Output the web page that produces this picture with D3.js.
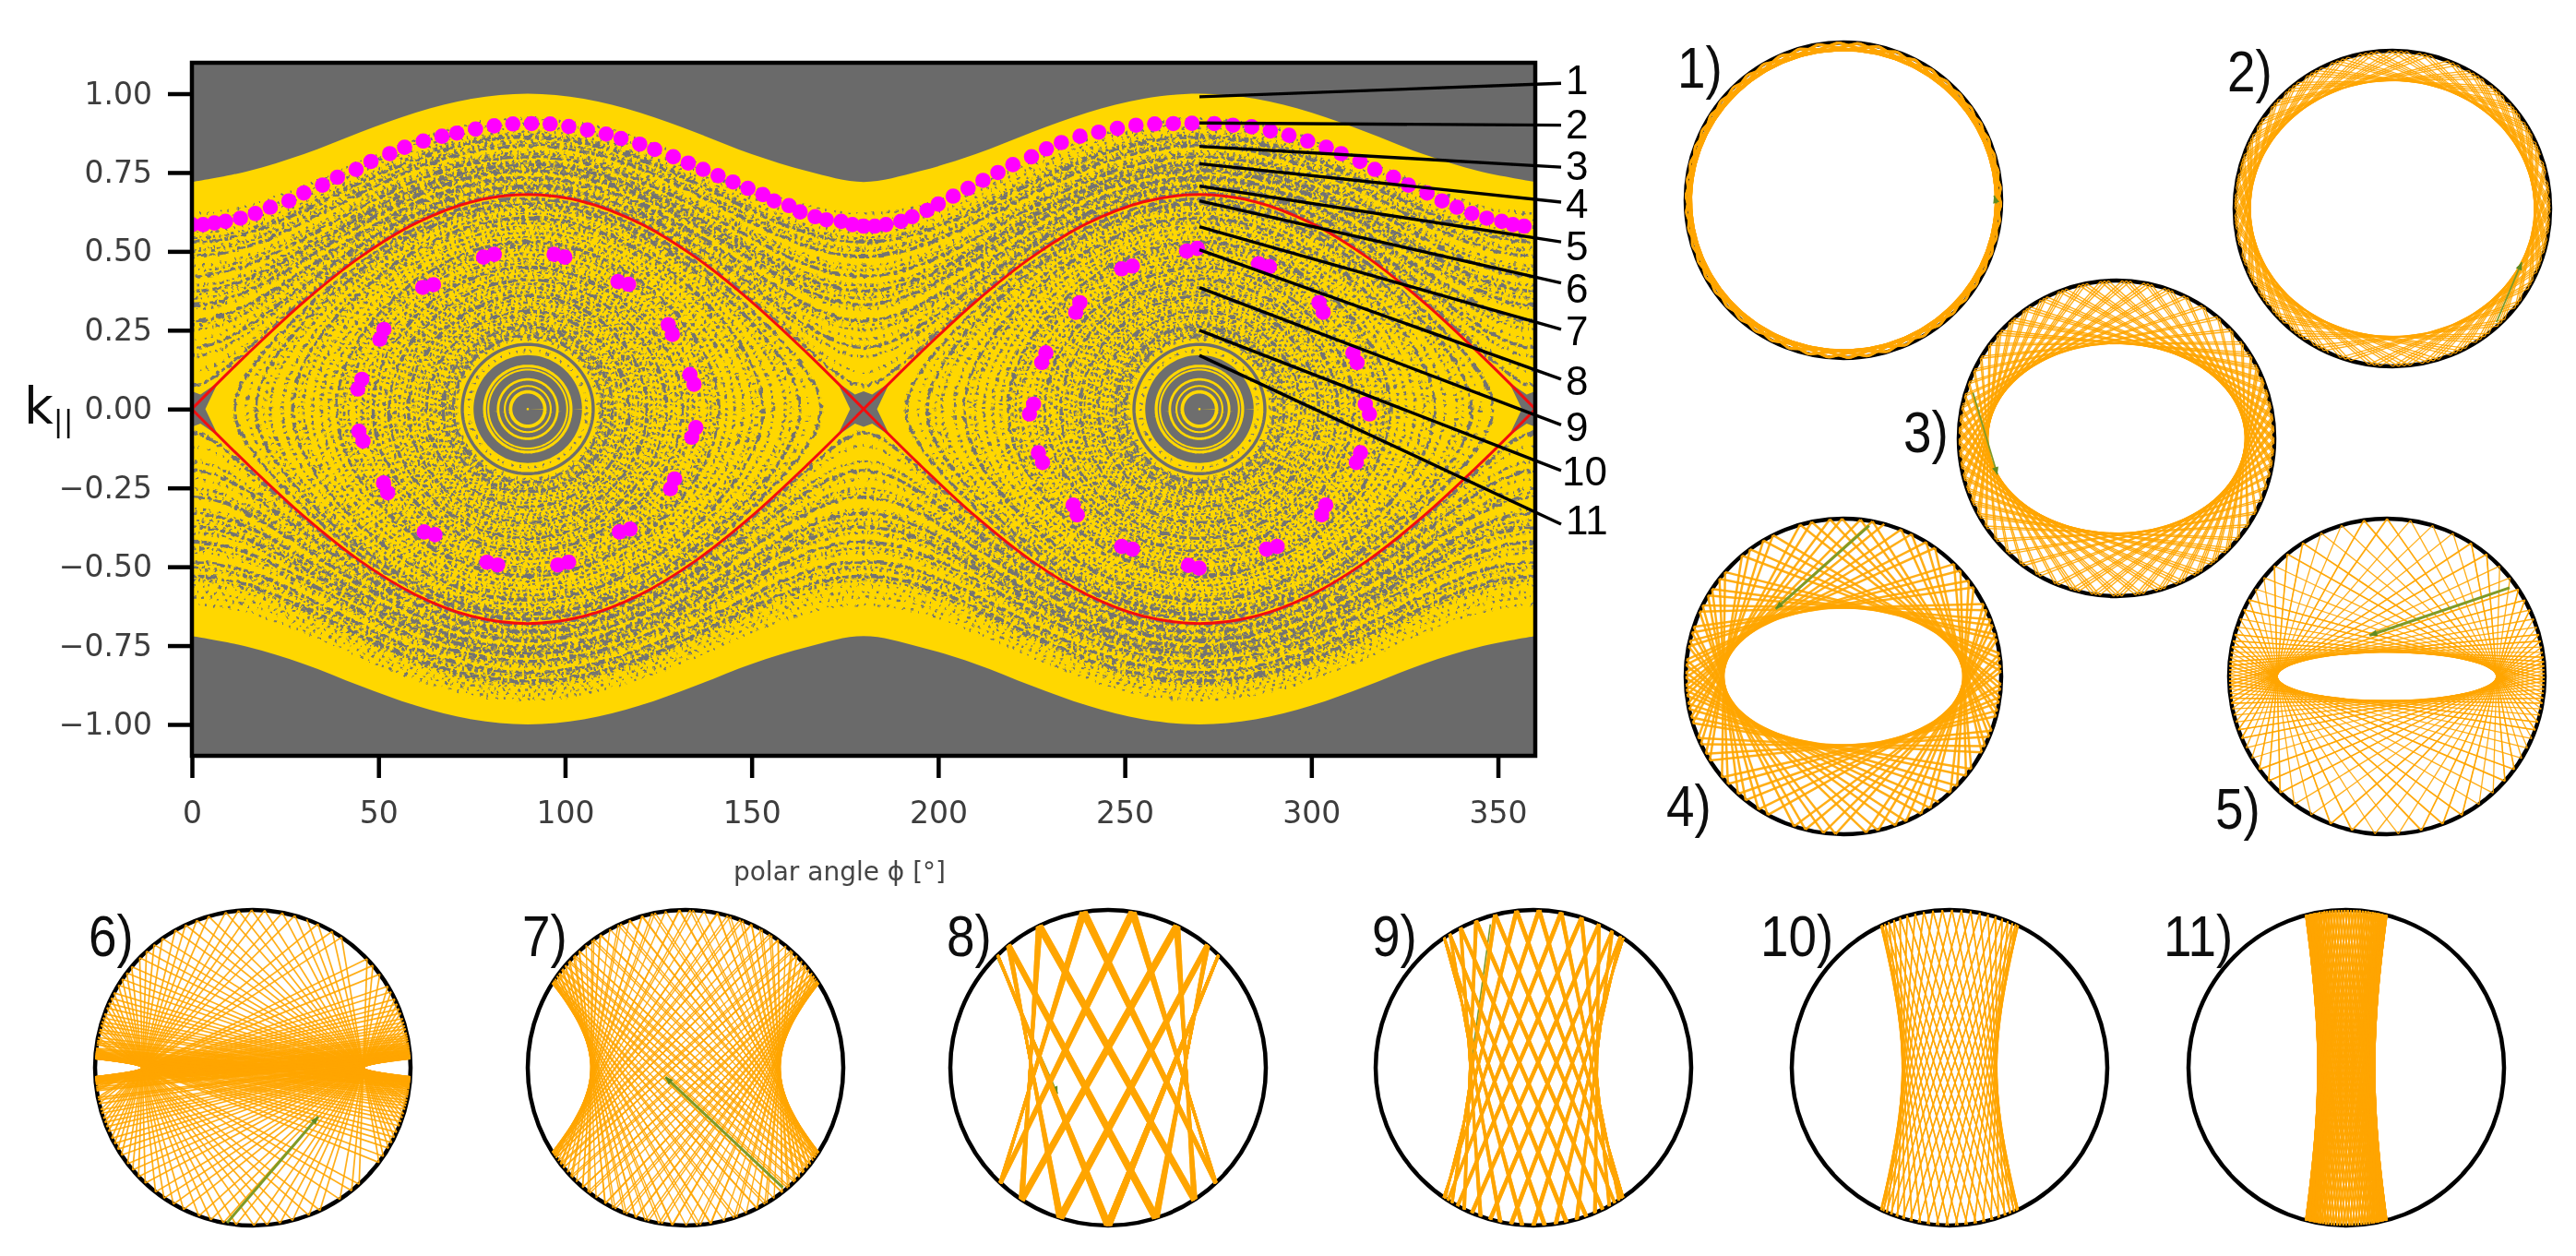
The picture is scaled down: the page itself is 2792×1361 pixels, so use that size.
<!DOCTYPE html>
<html><head><meta charset="utf-8">
<script src="https://cdn.jsdelivr.net/npm/d3@7/dist/d3.min.js"></script>
<style>html,body{margin:0;background:#fff}svg{display:block}</style></head><body>
<svg id="c" width="2792" height="1361"></svg>
<script>
// ---- values ----
const xTicks=[0,50,100,150,200,250,300,350];
const yTicks=[1,0.75,0.5,0.25,0,-0.25,-0.5,-0.75,-1];
const gridPhi=[0,15,30,45,60,75,90,105,120,135,150,165,180,195,210,225,240,255,270,285,300,315,330,345,360];
const boundaryK=[0.72,0.754,0.808,0.877,0.94,0.984,1,0.984,0.94,0.877,0.808,0.754,0.72,0.754,0.808,0.877,0.94,0.984,1,0.984,0.94,0.877,0.808,0.754,0.72];
const separatrixK=[0,0.176,0.34,0.481,0.589,0.657,0.68,0.657,0.589,0.481,0.34,0.176,0,0.176,0.34,0.481,0.589,0.657,0.68,0.657,0.589,0.481,0.34,0.176,0];
const separatrixPeak=0.68;
// upper magenta chain
const wavePhi=[0,3,6,9,13,17,21,26,30,35,39,44,48,53,57,62,67,71,76,81,86,91,96,101,106,111,115,120,124,129,133,137,141,145,149,153,156,160,163,167,170,174,177,180,183,186,190,193,197,200,204,208,212,216,220,225,229,233,238,243,248,253,258,263,268,274,279,284,289,294,299,304,308,313,317,322,326,331,335,339,343,347,351,354,357];
const waveK=[0.585,0.585,0.59,0.595,0.605,0.62,0.64,0.66,0.685,0.71,0.735,0.76,0.785,0.81,0.83,0.85,0.865,0.875,0.888,0.898,0.904,0.905,0.904,0.896,0.885,0.872,0.858,0.84,0.823,0.8,0.78,0.76,0.74,0.72,0.7,0.68,0.66,0.645,0.625,0.61,0.6,0.595,0.585,0.58,0.58,0.585,0.595,0.61,0.63,0.65,0.675,0.7,0.725,0.75,0.775,0.8,0.825,0.845,0.865,0.878,0.89,0.9,0.904,0.905,0.906,0.905,0.9,0.895,0.882,0.868,0.85,0.83,0.81,0.785,0.76,0.735,0.71,0.685,0.66,0.64,0.62,0.605,0.595,0.585,0.58];
// inner magenta chains (one pair of dots each)
const ringPhi=[79.6,98.5,63.3,115.6,50.9,128.2,45,134,45.3,134.5,51.9,128.8,63.7,116,80.5,99.5, 268,250.6,287.3,237.4,302.6,228.3,311.7,225,315,227.4,312.6,236.7,303.3,250.6,289.4,268.5];
const ringK=[0.486,0.486,0.39,0.4,0.237,0.252,0.079,0.094,-0.086,-0.074,-0.25,-0.237,-0.394,-0.385,-0.49,-0.49, 0.505,0.449,0.456,0.322,0.322,0.163,0.163,0,0,-0.154,-0.154,-0.32,-0.32,-0.44,-0.44,-0.5];
// orbit levels (k where the orbit crosses the lobe centre or phi = 90)
const ringBandInner=[0.004,0.060,0.076,0.098,0.128,0.141,0.2];
const ringBandOuter=[0.049,0.070,0.090,0.122,0.132,0.171,0.21];
const ringStrong=[0.232,0.262,0.31,0.36,0.41,0.45,0.53,0.606,0.65,0.6666];
const ringDense=[0.242,0.252,0.272,0.285,0.297,0.322,0.335,0.347,0.372,0.385,0.397,0.423,0.437,0.463,0.475,0.49,0.505,0.515,0.545,0.56,0.575,0.59,0.62,0.635];
const ringSparse=[0.185,0.222,0.522,0.598,0.642,0.658];
const waveStrong=[0.684,0.7074,0.735,0.756,0.776,0.80,0.835,0.862];
const waveDense=[0.70,0.725,0.765,0.785,0.81,0.845,0.87];
const waveSparse=[0.69,0.715,0.73,0.75,0.771,0.818,0.85,0.88,0.893,0.905,0.92];
// grey star at each saddle, offsets in phi and k
const starPhi=[0,2.3,7,3.6,7,2.3,0,-2.3,-7,-3.6,-7,-2.3];
const starK=[0.056,0.046,0.084,0,-0.084,-0.046,-0.056,-0.046,-0.084,0,0.084,0.046];
const saddles=[0,180,360];
// numbered leaders: k at phi=270, where each ends and where its number sits
const leaderK=[0.99,0.907,0.833,0.778,0.707,0.66,0.578,0.505,0.385,0.25,0.17];
const leaderEndK=[1.033,0.9,0.767,0.656,0.53,0.4,0.253,0.095,-0.05,-0.195,-0.365];
const leaderLabelK=[1.045,0.905,0.773,0.653,0.519,0.385,0.25,0.092,-0.054,-0.195,-0.35];
const leaderNames=["1","2","3","4","5","6","7","8","9","10","11"];
const panelNames=["1)","2)","3)","4)","5)","6)","7)","8)","9)","10)","11)"];
// caustic half-axes as fractions of the disc radius; kind 1 = ellipse, -1 = hyperbola
const causticA=[0.965,0.90,0.815,0.76,0.695,0.70,0.60,0.50,0.405,0.30,0.18];
const causticB=[0.95,0.81,0.60,0.435,0.153,0.056,0.54,0.72,0.84,0.854,0.947];
const causticKind=[1,1,1,1,1,-1,-1,-1,-1,-1,-1];
const bounceCount=[220,150,160,84,130,170,150,0,0,0,190];
const startAngle=[10,20,33,75,25,70,62,0,0,0,85];
// lattice panels 8-10: half-width of the bounce arcs, phase step between bounces,
// phase jump along a chord, spread inside one bundle (degrees)
const latticeA={7:0.70,8:0.57,9:0.436};
const latticeStep={7:25.714,8:14.4,9:8};
const latticeJump={7:90,8:90,9:93};
const latticeSpread={7:[-1.3,-0.65,0,0.65,1.3],8:[-0.7,0,0.7],9:[0]};
// green launch arrows, in disc-radius units
const arrowFromX=[0.97,0.66,-0.91,0.163,0.778,-0.163,0.617,-0.70,-0.273,null,null];
const arrowFromY=[0.02,0.72,-0.29,-0.956,-0.562,0.982,0.76,-0.69,-0.908,null,null];
const arrowToX=[0.955,0.82,-0.755,-0.43,-0.11,0.415,-0.128,-0.32,-0.397,null,null];
const arrowToY=[-0.03,0.34,0.23,-0.428,-0.26,0.31,0.059,0.166,-0.01,null,null];

// ---- layout ----
const W={l:208,r:1664,t:68,b:819};
const xS=d3.scaleLinear([0,360],[W.l,W.r]);
const yS=d3.scaleLinear([1,-1],[101.5,785]);
const panelCx=[1998,2593,2294,1998,2587,274,743,1201,1662,2113,2543];
const panelCy=[217,226,475,733,733,1157,1157,1157,1157,1157,1157];
const R=171;
const panelLabelX=[1818,2414,2063,1806,2401,96,566,1026,1487,1908,2345];
const panelLabelY=[73,77,468,873,876,1014,1014,1014,1014,1014,1014];

const svg=d3.select("#c");
const defs=svg.append("defs");
defs.append("filter").attr("id","soft").attr("x",0).attr("y",0).attr("width",1).attr("height",1)
 .append("feGaussianBlur").attr("stdDeviation",0.75);
const grain=defs.append("filter").attr("id","grain").attr("filterUnits","userSpaceOnUse")
 .attr("x",W.l).attr("y",W.t).attr("width",W.r-W.l).attr("height",W.b-W.t);
grain.append("feTurbulence").attr("type","fractalNoise").attr("baseFrequency",0.16).attr("numOctaves",2).attr("seed",3).attr("result","n");
grain.append("feDisplacementMap").attr("in","SourceGraphic").attr("in2","n").attr("scale",6).attr("xChannelSelector","R").attr("yChannelSelector","G");
defs.append("clipPath").attr("id","plotClip").append("rect").attr("x",W.l).attr("y",W.t).attr("width",W.r-W.l).attr("height",W.b-W.t);
const root=svg.append("g").attr("filter","url(#soft)");
root.append("rect").attr("width",2792).attr("height",1361).attr("fill","#fff");

// ---- phase portrait ----
const plot=root.append("g").attr("clip-path","url(#plotClip)");
plot.append("rect").attr("x",W.l).attr("y",W.t).attr("width",W.r-W.l).attr("height",W.b-W.t).attr("fill","#6b6b6b");
const grid=gridPhi.map((p,i)=>({p,b:boundaryK[i]}));
plot.append("path").datum(grid).attr("fill","#ffd700")
 .attr("d",d3.area().x(d=>xS(d.p)).y0(d=>yS(d.b)).y1(d=>yS(-d.b)).curve(d3.curveCatmullRom));

const gray="#737373";
const dashC="10 3 5 2.5 13 3.5 4 2.5 8 3";
const dashA="3 3.5 2 4 4 3 2.5 5 1.5 3.5 3 3.5 2 4.5 5 3";
const dashB="2 7 2.5 5 1.5 8 3 6 2 7.5 1.5 5";
const line=d3.line().x(d=>xS(d[0])).y(d=>yS(d[1]));
// each orbit level is drawn as the lens (inside) or wave (outside) that passes through it
function ringPts(c,lv){const o=[];for(let t=0;t<=360;t+=3){const r=t*Math.PI/180;
 const sn=Math.max(-1,Math.min(1,lv/separatrixPeak*Math.cos(r)));
 o.push([c+Math.asin(sn)*180/Math.PI,lv*Math.sin(r)]);}return o;}
function wavePts(lv,sign){const o=[];for(let p=0;p<=360;p+=3){const c=Math.cos(p*Math.PI/180);
 o.push([p,sign*Math.sqrt(Math.max(0,lv*lv-separatrixPeak*separatrixPeak*c*c))]);}return o;}
const tex=plot.append("g").attr("fill","none").attr("stroke",gray).attr("filter","url(#grain)");
function strand(pts,w,dash,off){tex.append("path").attr("d",line(pts)).attr("stroke-width",w).attr("stroke-dasharray",dash).attr("stroke-dashoffset",off);}
[90,270].forEach((c,ci)=>{
 ringSparse.forEach((lv,i)=>strand(ringPts(c,lv),2.5,dashB,i*11+ci*5));
 ringDense.forEach((lv,i)=>strand(ringPts(c,lv),2.8,dashA,i*7+ci*3));
 ringStrong.forEach((lv,i)=>strand(ringPts(c,lv),3.4,dashC,i*9+ci*6));
});
[1,-1].forEach((sg,ci)=>{
 waveSparse.forEach((lv,i)=>strand(wavePts(lv,sg),2.5,dashB,i*13+ci*9));
 waveDense.forEach((lv,i)=>strand(wavePts(lv,sg),2.8,dashA,i*5+ci*17));
 waveStrong.forEach((lv,i)=>strand(wavePts(lv,sg),3.4,dashC,i*8+ci*4));
});
// clean bands around the lobe centres
const bands=plot.append("g").attr("fill","none").attr("stroke","#6e6e6e");
[90,270].forEach(c=>ringBandInner.forEach((lo,i)=>{const hi=ringBandOuter[i];
 bands.append("path").attr("d",line(ringPts(c,(lo+hi)/2))).attr("stroke-width",(hi-lo)*(yS(0)-yS(1)));}));
// grey stars at the saddles
saddles.forEach(s=>plot.append("path").attr("fill","#6e6e6e")
 .attr("d",d3.line().x(d=>xS(s+d)).y((d,i)=>yS(starK[i])).curve(d3.curveLinearClosed)(starPhi)));
// separatrix
const sepLine=d3.line().x(d=>xS(d.p)).y(d=>yS(d.k)).curve(d3.curveCatmullRom);
[[0,12],[12,24]].forEach(([a,b])=>[1,-1].forEach(sg=>{
 const d=[];for(let i=a;i<=b;i++)d.push({p:gridPhi[i],k:sg*separatrixK[i]});
 plot.append("path").attr("d",sepLine(d)).attr("fill","none").attr("stroke","#f31010").attr("stroke-width",3);
}));
// magenta dots
const mg=plot.append("g").attr("fill","#ff00ff");
mg.selectAll("circle.w").data(wavePhi.map((p,i)=>[p,waveK[i]])).join("circle").attr("class","w")
 .attr("cx",d=>xS(d[0])).attr("cy",d=>yS(d[1])).attr("r",8.3);
ringPhi.forEach((p,i)=>{[-1.1,1.1].forEach(o=>{
 const centre=p<180?90:270, sx=(p<centre?1:-1)*(ringK[i]>=0?1:-1);
 const dk=(Math.abs(p-centre)>30?0.014:0.004)*o;
 mg.append("circle").attr("cx",xS(p+o*(Math.abs(p-centre)>30?0.5:1.3))).attr("cy",yS(ringK[i]+sx*dk)).attr("r",8.3);
});});

// axes
const ax=root.append("g");
ax.append("rect").attr("x",W.l).attr("y",W.t).attr("width",W.r-W.l).attr("height",W.b-W.t).attr("fill","none").attr("stroke","#000").attr("stroke-width",4.5);
const gx=ax.append("g").attr("transform",`translate(0,${W.b})`).call(d3.axisBottom(xS).tickValues(xTicks).tickSize(24).tickPadding(26).tickFormat(d3.format("d")));
const gy=ax.append("g").attr("transform",`translate(${W.l},0)`).call(d3.axisLeft(yS).tickValues(yTicks).tickSize(26).tickPadding(17).tickFormat(d=>d3.format(".2f")(d).replace("-","\u2212")));
[gx,gy].forEach(g=>{g.select(".domain").remove();g.selectAll("line").attr("stroke","#000").attr("stroke-width",4.5);
 g.selectAll("text").attr("font-family","DejaVu Sans").attr("font-size",33).attr("fill","#3c3c3c");});
ax.append("text").attr("x",910).attr("y",944).attr("text-anchor","middle").attr("dominant-baseline","central")
 .attr("font-family","DejaVu Sans").attr("font-size",28).attr("fill","#444").text("polar angle \u03D5 [\u00B0]");
const kl=ax.append("text").attr("x",26).attr("y",459).attr("font-family","DejaVu Sans").attr("font-size",55).attr("fill","#111");
kl.append("tspan").text("k");
kl.append("tspan").attr("font-size",32).attr("dy",8).attr("dx",0).text("||");

// leaders
const lg=root.append("g");
leaderK.forEach((k,i)=>{
 lg.append("line").attr("x1",xS(270)).attr("y1",yS(k)).attr("x2",1692).attr("y2",yS(leaderEndK[i])).attr("stroke","#000").attr("stroke-width",3.4);
 lg.append("text").attr("x",i===9?1693:1697).attr("y",yS(leaderLabelK[i])).attr("dy","0.36em").attr("font-family","Liberation Sans").attr("font-size",44).attr("fill","#000").text(leaderNames[i]);
});

// ---- billiard discs ----
function tangentHits(P,a,b,s){
 const [x,y]=P,p=1/(a*a),q=s/(b*b),u=x*p,v=y*q,e=x*x*p+y*y*q-1;
 const A=u*u-p*e,B=u*v,C=v*v-q*e;
 const disc=Math.sqrt(Math.max(0,B*B-A*C));
 const dirs=Math.abs(A)>Math.abs(C)?[[-B+disc,A],[-B-disc,A]]:[[C,-B+disc],[C,-B-disc]];
 return dirs.map(([dx,dy])=>{const t=-2*(x*dx+y*dy)/(dx*dx+dy*dy);return [x+t*dx,y+t*dy];});
}
function dist(a,b){return Math.hypot(a[0]-b[0],a[1]-b[1]);}
function bounces(startDeg,n,a,b,s){
 const st=startDeg*Math.PI/180;
 let P=[Math.cos(st),-Math.sin(st)],prev=null;const out=[];
 for(let k=0;k<n;k++){
  const hits=tangentHits(P,a,b,s);
  const Q=prev?(dist(hits[0],prev)>dist(hits[1],prev)?hits[0]:hits[1]):hits[0];
  out.push([P,Q]);prev=P;P=Q;
 }
 return out;
}
function lattice(i){
 const A=latticeA[i],rad=Math.PI/180,out=[];
 const pt=(th,sg)=>{const x=A*Math.cos(th*rad);return [x,sg*Math.sqrt(1-x*x)];};
 latticeSpread[i].forEach(d=>{
  for(let th=0;th<360-1e-6;th+=latticeStep[i]){
   out.push([pt(th+d,-1),pt(th+d+latticeJump[i],1)]);
   out.push([pt(th+d,-1),pt(th+d-latticeJump[i],1)]);
  }
 });
 return out;
}
panelNames.forEach((name,i)=>{
 const g=root.append("g");
 const sx=d3.scaleLinear([-1,1],[panelCx[i]-R,panelCx[i]+R]), sy=d3.scaleLinear([-1,1],[panelCy[i]-R,panelCy[i]+R]);
 g.append("circle").attr("cx",sx(0)).attr("cy",sy(0)).attr("r",R).attr("fill","none").attr("stroke","#000").attr("stroke-width",4.5);
 const chords=latticeA[i]?lattice(i):bounces(startAngle[i],bounceCount[i],causticA[i],causticB[i],causticKind[i]);
 const drawArrow=()=>{
  if(arrowFromX[i]===null)return;
  const x1=sx(arrowFromX[i]),y1=sy(arrowFromY[i]),x2=sx(arrowToX[i]),y2=sy(arrowToY[i]);
  const ang=Math.atan2(y2-y1,x2-x1),h=9;
  g.append("line").attr("x1",x1).attr("y1",y1).attr("x2",x2).attr("y2",y2).attr("stroke","#7f9a28").attr("stroke-width",i>=7?1.6:(i<3?1.8:3));
  g.append("path").attr("d",`M${x2},${y2}L${x2-h*Math.cos(ang-0.4)},${y2-h*Math.sin(ang-0.4)}L${x2-h*Math.cos(ang+0.4)},${y2-h*Math.sin(ang+0.4)}Z`).attr("fill","#5f8a20");
 };
 if(i>=7)drawArrow();
 const lw={0:2.4,1:1.3,2:1.4,3:2.5,4:1.3,5:1.7,6:1.4,7:3,8:2.4,9:1.5,10:1.7}[i];
 g.append("g").selectAll("line").data(chords).join("line")
  .attr("x1",d=>sx(d[0][0])).attr("y1",d=>sy(d[0][1])).attr("x2",d=>sx(d[1][0])).attr("y2",d=>sy(d[1][1]))
  .attr("stroke","#ffa500").attr("stroke-width",lw).attr("stroke-opacity",0.9);
 if(i<7)drawArrow();
 g.append("text").attr("transform",`translate(${panelLabelX[i]},${panelLabelY[i]}) scale(0.93,1.08)`).attr("dy","0.35em").attr("font-family","Liberation Sans").attr("font-size",59).attr("fill","#111").text(name);
});
</script></body></html>
